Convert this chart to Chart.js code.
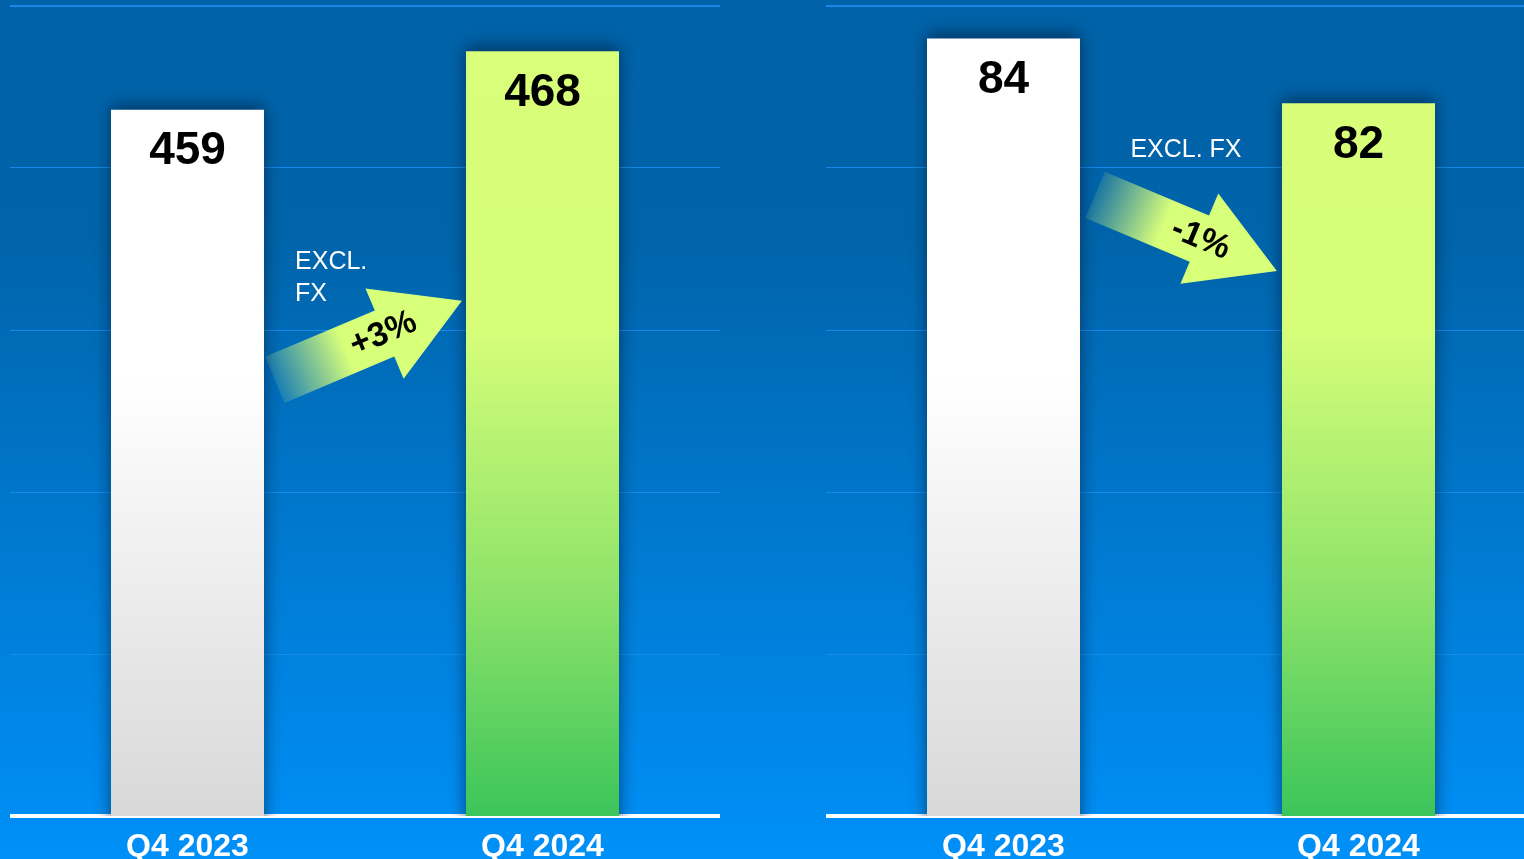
<!DOCTYPE html>
<html>
<head>
<meta charset="utf-8">
<script src="https://cdn.jsdelivr.net/npm/chart.js@4.4.1/dist/chart.umd.min.js"></script>
<style>
    html, body {
        margin: 0;
        padding: 0;
        width: 1524px;
        height: 859px;
        overflow: hidden;
        background: linear-gradient(to bottom, #0062a8 0%, #0064aa 28%, #0090f8 100%);
    }
    .panel {
        position: absolute;
        top: 0;
        width: 710px;
        height: 870px;
    }
    #panelLeft { left: 10px; }
    #panelRight { left: 826px; }
</style>
</head>
<body>
<div class="panel" id="panelLeft"><canvas id="chartLeft" width="710" height="870"></canvas></div>
<div class="panel" id="panelRight"><canvas id="chartRight" width="710" height="870"></canvas></div>

<script>
// data
var categories = ['Q4 2023', 'Q4 2024'];
var leftValues = [459, 468];
var rightValues = [84, 82];
// axis ranges: min, max, step
var leftRange = [350, 475, 25];
var rightRange = [60, 85, 5];
// change notes (excl. FX)
var leftChange = '+3%';
var rightChange = '-1%';
var noteText = 'EXCL. FX';

var FONT = '"Liberation Sans", Arial, Helvetica, sans-serif';
Chart.defaults.font.family = FONT;

var report = (function () {

    function barFill(context) {
        var chart = context.chart;
        var area = chart.chartArea;
        if (!area) { return '#ffffff'; }
        var g = chart.ctx.createLinearGradient(0, area.top, 0, area.bottom);
        if (context.dataIndex === 0) {
            g.addColorStop(0, '#ffffff');
            g.addColorStop(0.46, '#ffffff');
            g.addColorStop(1, '#d8d8d8');
        } else {
            g.addColorStop(0, '#daff7a');
            g.addColorStop(0.40, '#d6fe79');
            g.addColorStop(0.72, '#8fe36a');
            g.addColorStop(1, '#3cc55a');
        }
        return g;
    }

    // shadow under bars + value labels on top of them
    var barDecor = {
        id: 'barDecor',
        beforeDatasetsDraw: function (chart) {
            var ctx = chart.ctx;
            ctx.save();
            ctx.shadowColor = 'rgba(0, 20, 45, 0.6)';
            ctx.shadowBlur = 16;
            ctx.shadowOffsetY = -4;
        },
        afterDatasetsDraw: function (chart) {
            var ctx = chart.ctx;
            ctx.restore();
            var meta = chart.getDatasetMeta(0);
            var values = chart.data.datasets[0].data;
            ctx.save();
            ctx.fillStyle = '#000000';
            ctx.font = 'bold 46px ' + FONT;
            ctx.textAlign = 'center';
            ctx.textBaseline = 'middle';
            meta.data.forEach(function (bar, i) {
                ctx.fillText(String(values[i]), bar.x, bar.y + 42);
            });
            ctx.restore();
        }
    };

    // gradient arrow with change text and the "EXCL. FX" note
    var changeArrow = {
        id: 'changeArrow',
        afterDraw: function (chart, args, opts) {
            var xs = chart.scales.x;
            var ys = chart.scales.y;
            var ctx = chart.ctx;
            var x0 = xs.getPixelForValue(opts.from[0]), y0 = ys.getPixelForValue(opts.from[1]);
            var x1 = xs.getPixelForValue(opts.to[0]), y1 = ys.getPixelForValue(opts.to[1]);
            var len = Math.sqrt((x1 - x0) * (x1 - x0) + (y1 - y0) * (y1 - y0));
            var ang = Math.atan2(y1 - y0, x1 - x0);
            var headL = 84, headW = 49, shaftW = 25;

            ctx.save();
            ctx.translate(x0, y0);
            ctx.rotate(ang);
            var g = ctx.createLinearGradient(0, 0, len * 0.38, 0);
            g.addColorStop(0, 'rgba(216, 255, 122, 0.12)');
            g.addColorStop(1, 'rgba(216, 255, 122, 1)');
            ctx.fillStyle = g;
            ctx.beginPath();
            ctx.moveTo(0, -shaftW);
            ctx.lineTo(len - headL, -shaftW);
            ctx.lineTo(len - headL, -headW);
            ctx.lineTo(len, 0);
            ctx.lineTo(len - headL, headW);
            ctx.lineTo(len - headL, shaftW);
            ctx.lineTo(0, shaftW);
            ctx.closePath();
            ctx.fill();

            ctx.fillStyle = '#000000';
            ctx.font = 'bold 34px ' + FONT;
            ctx.textAlign = 'center';
            ctx.textBaseline = 'middle';
            ctx.fillText(opts.label, len * 0.58, 0);
            ctx.restore();

            ctx.save();
            ctx.fillStyle = '#ffffff';
            ctx.font = '25px ' + FONT;
            ctx.textAlign = opts.noteAlign;
            ctx.textBaseline = 'alphabetic';
            var nx = xs.getPixelForValue(opts.note[0]);
            var ny = ys.getPixelForValue(opts.note[1]);
            opts.noteLines.forEach(function (line, i) {
                ctx.fillText(line, nx, ny + i * 32);
            });
            ctx.restore();
        }
    };

    function buildChart(canvasId, values, range, arrow) {
        var ctx = document.getElementById(canvasId);
        return new Chart(ctx, {
            type: 'bar',
            data: {
                labels: categories,
                datasets: [{
                    data: values,
                    backgroundColor: barFill,
                    borderWidth: 0,
                    categoryPercentage: 1,
                    barPercentage: 0.431
                }]
            },
            options: {
                responsive: false,
                animation: false,
                events: [],
                layout: { padding: { top: 6, left: 0, right: 0, bottom: 0 } },
                plugins: {
                    legend: { display: false },
                    tooltip: { enabled: false },
                    changeArrow: arrow
                },
                scales: {
                    x: {
                        grid: { display: false },
                        border: { display: true, color: '#ffffff', width: 4 },
                        ticks: {
                            color: '#ffffff',
                            padding: 7,
                            font: { size: 32, weight: 'bold', lineHeight: 1 }
                        }
                    },
                    y: {
                        min: range[0],
                        max: range[1],
                        ticks: { display: false, stepSize: range[2] },
                        border: { display: false },
                        grid: {
                            drawTicks: false,
                            color: function (c) {
                                return c.tick.value === range[0] ? 'rgba(0,0,0,0)' : 'rgba(25, 140, 240, 0.9)';
                            },
                            lineWidth: function (c) {
                                return c.tick.value === range[1] ? 2 : 1;
                            }
                        }
                    }
                }
            },
            plugins: [barDecor, changeArrow]
        });
    }

    var init = function () {
        buildChart('chartLeft', leftValues, leftRange, {
            from: [0.246, 417.3],
            to: [0.773, 429.5],
            label: leftChange,
            note: [0.303, 434.4],
            noteLines: ['EXCL.', 'FX'],
            noteAlign: 'left'
        });
        buildChart('chartRight', rightValues, rightRange, {
            from: [0.258, 79.17],
            to: [0.770, 76.82],
            label: rightChange,
            note: [0.514, 80.34],
            noteLines: [noteText],
            noteAlign: 'center'
        });
    };

    return {
        init
    };
})();

report.init();
</script>
</body>
</html>
